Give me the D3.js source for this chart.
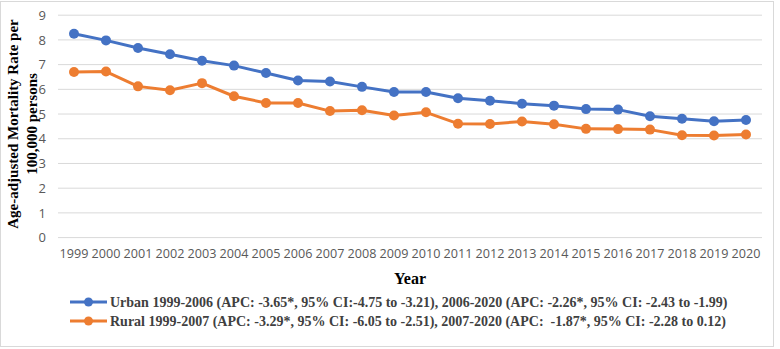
<!DOCTYPE html>
<html>
<head>
<meta charset="utf-8">
<script src="https://cdn.jsdelivr.net/npm/d3@7"></script>
<style>
  body { margin: 0; background: #fff; }
  svg { display: block; }
</style>
</head>
<body>
<div id="chart"></div>
<script>
// Data
const years = [1999, 2000, 2001, 2002, 2003, 2004, 2005, 2006, 2007, 2008, 2009, 2010,
               2011, 2012, 2013, 2014, 2015, 2016, 2017, 2018, 2019, 2020];
const urban = [8.25, 7.98, 7.67, 7.42, 7.16, 6.96, 6.66, 6.36, 6.32, 6.10, 5.89, 5.89,
               5.64, 5.54, 5.42, 5.34, 5.20, 5.18, 4.91, 4.81, 4.71, 4.76];
const rural = [6.70, 6.72, 6.12, 5.96, 6.25, 5.72, 5.45, 5.45, 5.12, 5.15, 4.94, 5.07,
               4.61, 4.60, 4.70, 4.59, 4.40, 4.39, 4.37, 4.14, 4.13, 4.17];
const yTicks = [0, 1, 2, 3, 4, 5, 6, 7, 8, 9];
const seriesNames = [
  "Urban 1999-2006 (APC: -3.65*, 95% CI:-4.75 to -3.21), 2006-2020 (APC: -2.26*, 95% CI: -2.43 to -1.99)",
  "Rural 1999-2007 (APC: -3.29*, 95% CI: -6.05 to -2.51), 2007-2020 (APC:  -1.87*, 95% CI: -2.28 to 0.12)"
];
const seriesColors = ["#4472c4", "#ed7d31"];

const W = 780, H = 349;
const margin = { top: 15, right: 18, bottom: 111, left: 58 };

const svg = d3.select("#chart").append("svg")
  .attr("width", W)
  .attr("height", H);

// outer frame
svg.append("rect")
  .attr("x", 0.5).attr("y", 1.5)
  .attr("width", 773).attr("height", 345)
  .attr("fill", "#fff")
  .attr("stroke", "#d9d9d9");

const xScale = d3.scaleBand()
  .domain(years)
  .range([margin.left, W - margin.right]);
const yScale = d3.scaleLinear()
  .domain([0, 9])
  .range([H - margin.bottom - 0.4, margin.top + 0.2]);

// gridlines
svg.append("g")
  .selectAll("line")
  .data(yTicks)
  .enter().append("line")
   .attr("x1", margin.left)
   .attr("x2", W - margin.right)
   .attr("y1", d => yScale(d))
   .attr("y2", d => yScale(d))
   .attr("stroke", "#d9d9d9")
   .attr("stroke-width", 1);

// y axis
const yAxis = d3.axisLeft(yScale).tickValues(yTicks).tickSize(0).tickPadding(0);
const gy = svg.append("g")
  .attr("transform", "translate(" + (margin.left - 12) + ",0)")
  .call(yAxis);
gy.select(".domain").remove();
gy.selectAll("text")
  .attr("fill", "#595959")
  .style("font-family", "'Open Sans', sans-serif")
  .style("font-size", "13px");

// x axis
const xAxis = d3.axisBottom(xScale).tickSize(0).tickPadding(0);
const gx = svg.append("g")
  .attr("transform", "translate(0," + (yScale(0) + 11) + ")")
  .call(xAxis);
gx.select(".domain").remove();
gx.selectAll("text")
  .attr("fill", "#595959")
  .style("font-family", "'Open Sans', sans-serif")
  .style("font-size", "12.6px");

// axis titles
svg.append("text")
  .attr("x", xScale(2009) + xScale.bandwidth())
  .attr("y", 284)
  .attr("text-anchor", "middle")
  .style("font-family", "'Liberation Serif', serif")
  .style("font-weight", "bold")
  .style("font-size", "16px")
  .text("Year");

const yTitle = svg.append("text")
  .attr("transform", "translate(0,124) rotate(-90)")
  .attr("text-anchor", "middle")
  .style("font-family", "'Liberation Serif', serif")
  .style("font-weight", "bold")
  .style("font-size", "15px");
yTitle.append("tspan").attr("x", 0).attr("y", 18).text("Age-adjusted Mortality Rate per");
yTitle.append("tspan").attr("x", 0).attr("y", 37).text("100,000 persons");

// lines
const line = d3.line()
  .x((d, i) => xScale(years[i]) + xScale.bandwidth() / 2)
  .y(d => yScale(d));

[urban, rural].forEach(function(vals, k) {
  const g = svg.append("g");
  g.append("path")
    .datum(vals)
    .attr("d", line)
    .attr("fill", "none")
    .attr("stroke", seriesColors[k])
    .attr("stroke-width", 3)
    .attr("stroke-linejoin", "round");
  g.selectAll("circle")
    .data(vals)
    .enter().append("circle")
     .attr("cx", (d, i) => xScale(years[i]) + xScale.bandwidth() / 2)
     .attr("cy", d => yScale(d))
     .attr("r", 5)
     .attr("fill", seriesColors[k]);
});

// legend
const legend = svg.selectAll(".legend")
  .data(seriesNames)
  .enter().append("g")
   .attr("class", "legend")
   .attr("transform", (d, i) => "translate(70," + (302 + i * 19) + ")");
legend.append("line")
  .attr("x1", 0).attr("x2", 37)
  .attr("stroke", (d, i) => seriesColors[i])
  .attr("stroke-width", 3);
legend.append("circle")
  .attr("cx", 18.5).attr("r", 4.5)
  .attr("fill", (d, i) => seriesColors[i]);
legend.append("text")
  .attr("x", 40)
  .attr("dy", "0.35em")
  .attr("fill", "#404040")
  .style("font-family", "'Liberation Serif', serif")
  .style("font-weight", "bold")
  .style("font-size", "14px")
  .style("white-space", "pre")
  .text(d => d);
</script>
</body>
</html>
